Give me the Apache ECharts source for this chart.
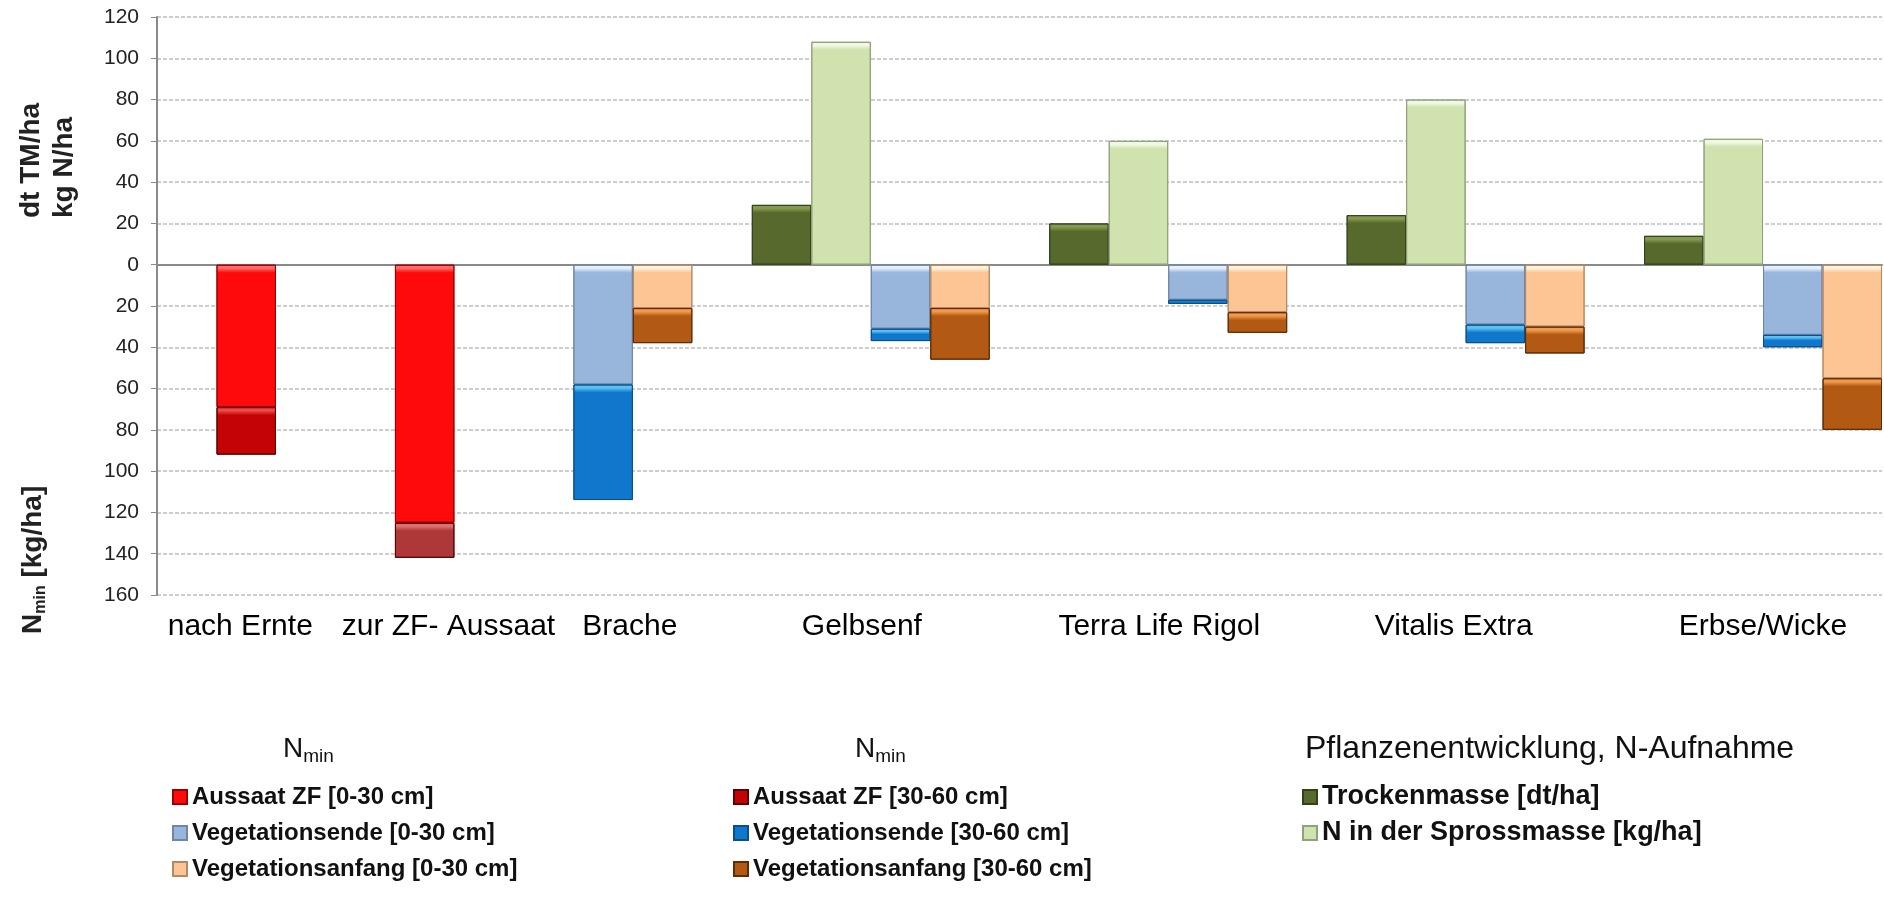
<!DOCTYPE html>
<html>
<head>
<meta charset="utf-8">
<title>Nmin und Pflanzenentwicklung</title>
<script src="https://cdn.jsdelivr.net/npm/echarts@6/dist/echarts.min.js"></script>
<style>
  html, body { margin: 0; padding: 0; background: #fff; }
  #chart { width: 1884px; height: 906px; }
</style>
</head>
<body>
<div id="chart"></div>
<script>
// Varianten (Beschriftung der x-Achse)
const varianten = ['nach Ernte', 'zur ZF- Aussaat', 'Brache', 'Gelbsenf', 'Terra Life Rigol', 'Vitalis Extra', 'Erbse/Wicke'];

// Nmin [kg/ha] - wird nach unten aufgetragen
const aussaat0_30 = [69, 125, null, null, null, null, null];
const aussaat30_60 = [23, 17, null, null, null, null, null];
const vegEnde0_30 = [null, null, 58, 31, 17, 29, 34];
const vegEnde30_60 = [null, null, 56, 6, 2, 9, 6];
const vegAnfang0_30 = [null, null, 21, 21, 23, 30, 55];
const vegAnfang30_60 = [null, null, 17, 25, 10, 13, 25];

// Pflanzenentwicklung, N-Aufnahme - nach oben
const trockenmasse = [null, null, null, 29, 20, 24, 14];
const nSpross = [null, null, null, 108, 60, 80, 61];

// y-Achse: oben dt TM/ha bzw. kg N/ha, unten Nmin
const yMin = -160, yMax = 120, yStep = 20;

// Layout: jede Säule bekommt einen eigenen Platz (wie im Excel-Original)
const slotCount = 29;
const slotStart = [1, 4, 7, 10, 15, 20, 25];
const labelPos = [1.4, 4.9, 7.95, 11.85, 16.85, 21.8, 27];

const font = 'Liberation Sans, Arial, sans-serif';

// Platz jeder Säulengruppe je Variante bestimmen
const slotOf = { aussaat: [], tm: [], n: [], ende: [], anfang: [] };
varianten.forEach((v, i) => {
  const cols = [];
  if (aussaat0_30[i] != null) cols.push('aussaat');
  if (trockenmasse[i] != null) cols.push('tm');
  if (nSpross[i] != null) cols.push('n');
  if (vegEnde0_30[i] != null) cols.push('ende');
  if (vegAnfang0_30[i] != null) cols.push('anfang');
  cols.forEach((c, k) => { slotOf[c][i] = slotStart[i] + k; });
});

// Serien: Farbe, Glanzkante oben, Rand
const defs = [
  { name: 'Aussaat ZF [0-30 cm]', values: aussaat0_30, col: 'aussaat', sign: -1, color: '#FF0A0A', light: '#FF6A6A', border: '#9A0000' },
  { name: 'Aussaat ZF [30-60 cm]', values: aussaat30_60, col: 'aussaat', sign: -1, color: '#C40404', light: '#F04848', border: '#5A0000' },
  { name: 'Vegetationsende [0-30 cm]', values: vegEnde0_30, col: 'ende', sign: -1, color: '#98B5DC', light: '#E6F0FC', border: '#6E86A8' },
  { name: 'Vegetationsende [30-60 cm]', values: vegEnde30_60, col: 'ende', sign: -1, color: '#0F78CC', light: '#5CC0F2', border: '#0A4F8A' },
  { name: 'Vegetationsanfang [0-30 cm]', values: vegAnfang0_30, col: 'anfang', sign: -1, color: '#FCC593', light: '#FFF2DC', border: '#B08A66' },
  { name: 'Vegetationsanfang [30-60 cm]', values: vegAnfang30_60, col: 'anfang', sign: -1, color: '#B25A14', light: '#F29A4A', border: '#5E2C05' },
  { name: 'Trockenmasse [dt/ha]', values: trockenmasse, col: 'tm', sign: 1, color: '#57692C', light: '#849A50', border: '#34421A' },
  { name: 'N in der Sprossmasse [kg/ha]', values: nSpross, col: 'n', sign: 1, color: '#D0E2AE', light: '#F2F8E4', border: '#8FA27A' }
];
// zur ZF-Aussaat: 30-60 cm im Original matter gefärbt
const ausnahme = { series: 1, group: 1, color: '#AE3838', light: '#DC7070' };

function bevel(base, light, h) {
  const f = Math.min(0.45, 8 / Math.max(h, 1));
  return {
    type: 'linear', x: 0, y: 0, x2: 0, y2: 1,
    colorStops: [
      { offset: 0, color: light },
      { offset: f * 0.45, color: light },
      { offset: f, color: base },
      { offset: 1, color: base }
    ]
  };
}

function buildSeries(pxPerUnit) {
  return defs.map((d, si) => {
    const data = new Array(slotCount).fill('-');
    d.values.forEach((v, i) => {
      if (v == null) return;
      let base = d.color, light = d.light;
      if (si === ausnahme.series && i === ausnahme.group) { base = ausnahme.color; light = ausnahme.light; }
      data[slotOf[d.col][i]] = {
        value: d.sign * v,
        itemStyle: pxPerUnit ? { color: bevel(base, light, v * pxPerUnit) } : { color: base }
      };
    });
    return {
      name: d.name,
      type: 'bar',
      stack: 'alle',
      barWidth: '100%',
      data: data,
      itemStyle: { color: d.color, borderColor: d.border, borderWidth: 1 },
      emphasis: { disabled: true }
    };
  });
}

function legend(left, names, size) {
  return {
    orient: 'vertical', left: left, top: 782, padding: 0,
    itemGap: 6, itemWidth: 14, itemHeight: 14, icon: 'rect',
    selectedMode: false, data: names,
    textStyle: { fontFamily: font, fontSize: size, fontWeight: 'bold', color: '#111', lineHeight: 30 }
  };
}

const nminRich = {
  n: { fontFamily: font, fontSize: 28, fontWeight: 'normal', color: '#111' },
  s: { fontFamily: font, fontSize: 19, fontWeight: 'normal', color: '#111', verticalAlign: 'bottom', lineHeight: 34 }
};

const chart = echarts.init(document.getElementById('chart'));
chart.setOption({
  animation: false,
  backgroundColor: '#fff',
  grid: { left: 157, right: 2, top: 17, bottom: 311 },
  title: [
    { text: '{n|N}{s|min}', left: 278, top: 727, textStyle: { fontWeight: 'normal', rich: nminRich } },
    { text: '{n|N}{s|min}', left: 850, top: 727, textStyle: { fontWeight: 'normal', rich: nminRich } },
    { text: 'Pflanzenentwicklung, N-Aufnahme', left: 1300, top: 728,
      textStyle: { fontFamily: font, fontSize: 32, fontWeight: 'normal', color: '#111' } }
  ],
  legend: [
    legend(172, ['Aussaat ZF [0-30 cm]', 'Vegetationsende [0-30 cm]', 'Vegetationsanfang [0-30 cm]'], 24),
    legend(733, ['Aussaat ZF [30-60 cm]', 'Vegetationsende [30-60 cm]', 'Vegetationsanfang [30-60 cm]'], 24),
    legend(1302, ['Trockenmasse [dt/ha]', 'N in der Sprossmasse [kg/ha]'], 27)
  ],
  xAxis: [
    {
      type: 'category',
      data: Array.from({ length: slotCount }, (_, i) => String(i)),
      axisLine: { onZero: true, lineStyle: { color: '#8A8A8A', width: 2 } },
      axisTick: { show: false },
      axisLabel: { show: false },
      splitLine: { show: false }
    },
    {
      type: 'value',
      min: 0, max: slotCount,
      position: 'bottom',
      axisLine: { show: false, onZero: false },
      axisTick: { show: false },
      splitLine: { show: false },
      axisLabel: {
        customValues: labelPos,
        formatter: v => varianten[labelPos.indexOf(v)],
        fontFamily: font, fontSize: 30, color: '#000', margin: 17
      }
    }
  ],
  yAxis: {
    type: 'value',
    min: yMin, max: yMax, interval: yStep,
    axisLine: { show: true, lineStyle: { color: '#8A8A8A', width: 2 } },
    axisTick: { show: true, length: 6, lineStyle: { color: '#8A8A8A' } },
    axisLabel: {
      formatter: v => String(Math.abs(v)),
      fontFamily: font, fontSize: 21, color: '#222', margin: 18
    },
    splitLine: { show: true, lineStyle: { color: '#BDBDBD', width: 1.5, type: [4, 2] } }
  },
  graphic: [
    {
      type: 'text', x: 48, y: 218, rotation: Math.PI / 2,
      style: {
        text: 'dt TM/ha\nkg N/ha', fontFamily: font, fontSize: 28, fontWeight: 'bold',
        lineHeight: 33, fill: '#222', textAlign: 'left', textVerticalAlign: 'middle'
      }
    },
    {
      type: 'text', x: 33, y: 634, rotation: Math.PI / 2,
      style: {
        text: '{b|N}{s|min}{b| [kg/ha]}',
        textAlign: 'left', textVerticalAlign: 'middle',
        rich: {
          b: { fontFamily: font, fontSize: 28, fontWeight: 'bold', fill: '#222', lineHeight: 32 },
          s: { fontFamily: font, fontSize: 16, fontWeight: 'bold', fill: '#222', verticalAlign: 'bottom', lineHeight: 32 }
        }
      }
    }
  ],
  series: buildSeries(0)
});

// Glanzkante: Pixel je Einheit von der Achse holen und Verläufe setzen
const pxPerUnit = Math.abs(
  chart.convertToPixel({ yAxisIndex: 0 }, 0) - chart.convertToPixel({ yAxisIndex: 0 }, yStep)
) / yStep;
chart.setOption({ series: buildSeries(pxPerUnit) });
</script>
</body>
</html>
